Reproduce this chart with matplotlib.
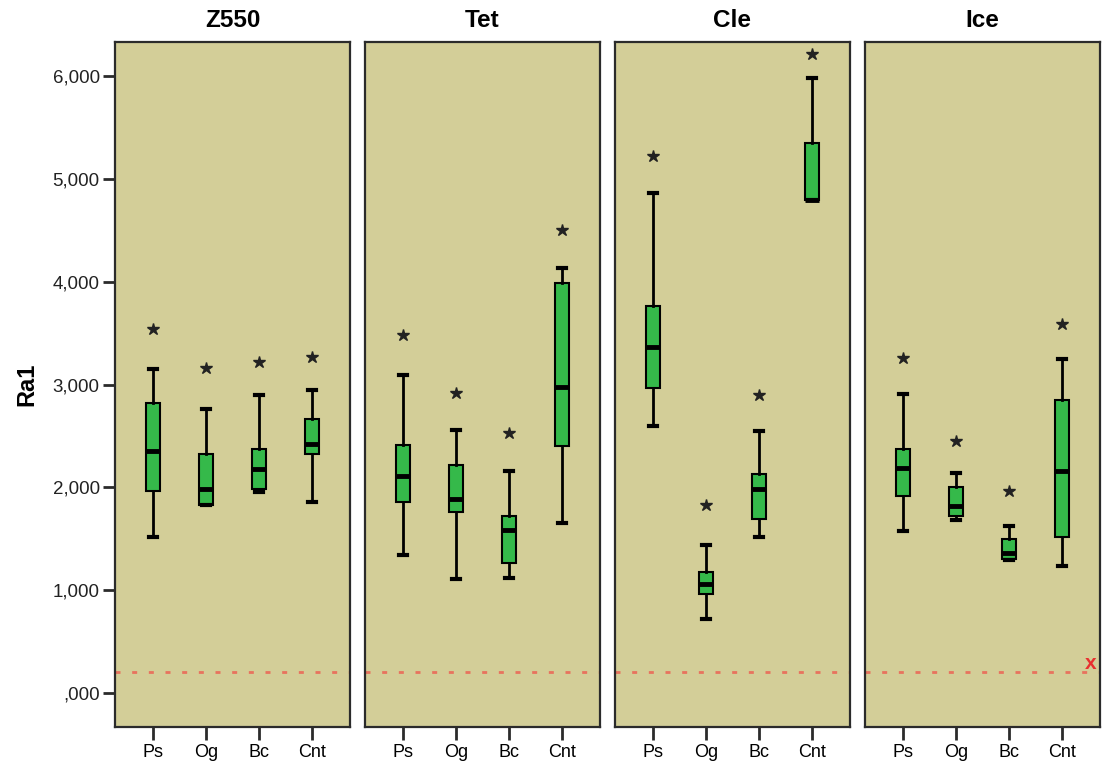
import matplotlib
matplotlib.use("Agg")
import matplotlib.pyplot as plt

plt.rcParams['font.family'] = ['Liberation Sans', 'DejaVu Sans']

panels = ["Z550", "Tet", "Cle", "Ice"]
groups = ["Ps", "Og", "Bc", "Cnt"]

# per panel: lists over groups
whislo = {
    "Z550": [1515, 1829, 1955, 1858],
    "Tet":  [1339, 1109, 1122, 1657],
    "Cle":  [2600, 717, 1515, 4796],
    "Ice":  [1576, 1683, 1294, 1239],
}
q1 = {
    "Z550": [1965, 1829, 1981, 2325],
    "Tet":  [1861, 1757, 1261, 2403],
    "Cle":  [2970, 963, 1693, 4796],
    "Ice":  [1916, 1725, 1300, 1515],
}
med = {
    "Z550": [2354, 1984, 2176, 2422],
    "Tet":  [2111, 1887, 1586, 2973],
    "Cle":  [3369, 1060, 1984, 4796],
    "Ice":  [2192, 1823, 1365, 2162],
}
q3 = {
    "Z550": [2818, 2325, 2374, 2662],
    "Tet":  [2412, 2218, 1725, 3991],
    "Cle":  [3765, 1180, 2130, 5347],
    "Ice":  [2374, 2001, 1498, 2850],
}
whishi = {
    "Z550": [3152, 2763, 2899, 2947],
    "Tet":  [3096, 2555, 2163, 4131],
    "Cle":  [4861, 1440, 2552, 5986],
    "Ice":  [2912, 2137, 1625, 3249],
}
extreme = {
    "Z550": [3537, 3165, 3223, 3271],
    "Tet":  [3482, 2921, 2532, 4504],
    "Cle":  [5224, 1829, 2899, 6213],
    "Ice":  [3256, 2448, 1968, 3589],
}
ref_line = 200
marker_x_value = 289

yticks = [0, 1000, 2000, 3000, 4000, 5000, 6000]
ytick_labels = [",000", "1,000", "2,000", "3,000", "4,000", "5,000", "6,000"]

bg = "#D3CE98"
green = "#35B94A"
spine_c = "#2b2b2b"

fig = plt.figure(figsize=(11.05, 7.66), dpi=100)
W, H = 1105, 766
left0, pw, gap = 115, 235, 15
top_px, bot_px = 42, 727

for i, p in enumerate(panels):
    l = left0 + i * (pw + gap)
    ax = fig.add_axes([l / W, 1 - bot_px / H, pw / W, (bot_px - top_px) / H])
    ax.set_facecolor(bg)
    stats = []
    for j, g in enumerate(groups):
        stats.append(dict(label=g, whislo=whislo[p][j], q1=q1[p][j], med=med[p][j],
                          q3=q3[p][j], whishi=whishi[p][j], fliers=[extreme[p][j]]))
    ax.bxp(stats, positions=range(1, 5), widths=0.27, patch_artist=True,
           boxprops=dict(facecolor=green, edgecolor="black", linewidth=1.5),
           medianprops=dict(color="black", linewidth=3.5, solid_capstyle="butt"),
           whiskerprops=dict(color="black", linewidth=2),
           capprops=dict(color="black", linewidth=3),
           capwidths=0.15,
           flierprops=dict(marker="*", markersize=9, markerfacecolor="#222222",
                           markeredgecolor="#222222"))
    ax.axhline(ref_line, color="#E8735E", linewidth=2, dashes=(1.8, 4.2), zorder=1)
    ax.set_xlim(0.283, 4.717)
    ax.set_ylim(-331, 6333)
    ax.set_xticks(range(1, 5))
    ax.set_xticklabels(groups, fontsize=13)
    ax.tick_params(axis="x", length=9, width=2, color=spine_c, pad=3)
    for s in ax.spines.values():
        s.set_color(spine_c)
        s.set_linewidth(1.6)
    if i == 0:
        ax.set_yticks(yticks)
        ax.set_yticklabels(ytick_labels, fontsize=13.5, color="#222222")
        ax.tick_params(axis="y", length=9, width=2, color=spine_c, pad=2)
        ax.set_ylabel("Ra1", fontsize=17, fontweight="bold", labelpad=10)
    else:
        ax.set_yticks([])
    ax.set_title(p, fontsize=17.5, fontweight="bold", pad=11)
    if i == 3:
        ax.text(4.54, marker_x_value, "x", color="#E83030", fontsize=15,
                fontweight="bold", ha="center", va="center")

fig.savefig("out.png", dpi=100)
